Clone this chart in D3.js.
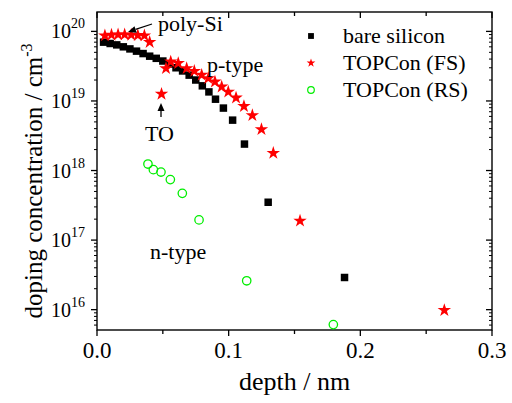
<!DOCTYPE html>
<html>
<head>
<meta charset="utf-8">
<script src="https://cdn.jsdelivr.net/npm/d3@7"></script>
<style>
body { margin: 0; background: #fff; }
text { font-family: "Liberation Serif", "Times New Roman", serif; fill: #000; }
</style>
</head>
<body>
<div id="chart"></div>
<script>
var w = 512;
var h = 403;

// bare silicon
var bareDepth = [0.005, 0.010, 0.015, 0.020, 0.025, 0.030, 0.035, 0.040, 0.045, 0.050,
    0.055, 0.060, 0.065, 0.070, 0.075, 0.080, 0.085, 0.090, 0.096, 0.103, 0.112, 0.130, 0.188];
var bareConc = [7.0e19, 6.7e19, 6.4e19, 6.0e19, 5.6e19, 5.2e19, 4.8e19, 4.4e19, 4.1e19, 3.75e19,
    3.4e19, 3.0e19, 2.7e19, 2.35e19, 2.0e19, 1.65e19, 1.35e19, 1.06e19, 7.9e18, 5.3e18, 2.4e18, 3.5e17, 2.9e16];

// TOPCon front side
var fsDepth = [0.006, 0.011, 0.016, 0.021, 0.026, 0.031, 0.036, 0.040, 0.049, 0.0524, 0.056,
    0.0617, 0.0681, 0.0739, 0.0795, 0.0845, 0.0896, 0.0947, 0.0997, 0.1056, 0.1116, 0.118,
    0.1249, 0.1339, 0.1542, 0.2638];
var fsConc = [8.7e19, 8.9e19, 9.0e19, 9.0e19, 8.9e19, 8.8e19, 8.7e19, 7.0e19, 1.26e19, 2.94e19, 3.66e19,
    3.48e19, 2.94e19, 2.69e19, 2.36e19, 2.11e19, 1.89e19, 1.6e19, 1.35e19, 1.11e19, 8.4e18, 6.2e18,
    3.9e18, 1.78e18, 1.89e17, 9.8e15];

// TOPCon rear side
var rsDepth = [0.0387, 0.0428, 0.0486, 0.0557, 0.0648, 0.0775, 0.1137, 0.1795];
var rsConc = [1.24e18, 1.03e18, 9.5e17, 7.4e17, 4.7e17, 1.95e17, 2.6e16, 6.1e15];

var xTicks = [0.0, 0.1, 0.2, 0.3];
var xMinor = [0.05, 0.15, 0.25];
var yExps = [16, 17, 18, 19, 20];

var legendNames = ['bare silicon', 'TOPCon (FS)', 'TOPCon (RS)'];

var pLeft = 97, pRight = 492, pTop = 12, pBottom = 330;

var x = d3.scaleLinear().domain([0, 0.3]).range([pLeft, pRight]);
var y = d3.scaleLog().domain([5.1e15, 1.9e20]).range([pBottom, pTop]);

var svg = d3.select('#chart')
    .append('svg')
    .attr('width', w)
    .attr('height', h);

// minor y ticks
var yMinor = [];
for (var e = 15; e <= 20; e++) {
    for (var k = 2; k <= 9; k++) {
        var v = k * Math.pow(10, e);
        if (v > y.domain()[0] && v < y.domain()[1]) yMinor.push(v);
    }
}

var ax = svg.append('g').attr('stroke', '#000').attr('stroke-width', 1.3);

// left ticks point out, right ticks point in
yExps.forEach(function(p) {
    var yy = y(Math.pow(10, p));
    ax.append('line').attr('x1', pLeft - 6).attr('x2', pLeft).attr('y1', yy).attr('y2', yy);
    ax.append('line').attr('x1', pRight - 6).attr('x2', pRight).attr('y1', yy).attr('y2', yy);
});
yMinor.forEach(function(v) {
    var yy = y(v);
    ax.append('line').attr('x1', pLeft - 3).attr('x2', pLeft).attr('y1', yy).attr('y2', yy).attr('stroke-width', 1);
    ax.append('line').attr('x1', pRight - 3).attr('x2', pRight).attr('y1', yy).attr('y2', yy).attr('stroke-width', 1);
});

xTicks.forEach(function(t) {
    var xx = x(t);
    ax.append('line').attr('x1', xx).attr('x2', xx).attr('y1', pBottom).attr('y2', pBottom + 6);
    ax.append('line').attr('x1', xx).attr('x2', xx).attr('y1', pTop).attr('y2', pTop + 6);
});
xMinor.forEach(function(t) {
    var xx = x(t);
    ax.append('line').attr('x1', xx).attr('x2', xx).attr('y1', pBottom).attr('y2', pBottom + 4);
    ax.append('line').attr('x1', xx).attr('x2', xx).attr('y1', pTop).attr('y2', pTop + 4);
});

// frame
svg.append('rect')
    .attr('x', pLeft).attr('y', pTop)
    .attr('width', pRight - pLeft).attr('height', pBottom - pTop)
    .attr('fill', 'none').attr('stroke', '#000').attr('stroke-width', 1.4);

// x tick labels
svg.selectAll('text.xt')
    .data(xTicks)
    .enter()
    .append('text')
    .attr('class', 'xt')
    .attr('x', function(d) { return x(d); })
    .attr('y', 358)
    .attr('text-anchor', 'middle')
    .style('font-size', '23px')
    .text(function(d) { return d.toFixed(1); });

// y tick labels
var yl = svg.selectAll('text.yt')
    .data(yExps)
    .enter()
    .append('text')
    .attr('class', 'yt')
    .attr('x', 51)
    .attr('y', function(d) { return y(Math.pow(10, d)) + 7; })
    .style('font-size', '20px');
yl.append('tspan').text('10');
yl.append('tspan').attr('dy', -10).style('font-size', '14px').text(function(d) { return d; });

// axis titles
svg.append('text')
    .attr('x', (pLeft + pRight) / 2)
    .attr('y', 390)
    .attr('text-anchor', 'middle')
    .style('font-size', '26px')
    .text('depth / nm');

var yt = svg.append('text')
    .attr('transform', 'translate(42,181) rotate(-90)')
    .attr('text-anchor', 'middle')
    .style('font-size', '25px');
yt.append('tspan').text('doping concentration / cm');
yt.append('tspan').attr('dy', -10).style('font-size', '16px').text('-3');

// data
var sq = d3.symbol().type(d3.symbolSquare).size(56);
var st = d3.symbol().type(d3.symbolStar).size(56);

svg.append('g').selectAll('path')
    .data(d3.zip(bareDepth, bareConc))
    .enter()
    .append('path')
    .attr('d', sq)
    .attr('transform', function(d) { return 'translate(' + x(d[0]) + ',' + y(d[1]) + ')'; })
    .attr('fill', '#000');

svg.append('g').selectAll('path')
    .data(d3.zip(fsDepth, fsConc))
    .enter()
    .append('path')
    .attr('d', st)
    .attr('transform', function(d) { return 'translate(' + x(d[0]) + ',' + y(d[1]) + ')'; })
    .attr('fill', '#ff0000');

svg.append('g').selectAll('circle')
    .data(d3.zip(rsDepth, rsConc))
    .enter()
    .append('circle')
    .attr('cx', function(d) { return x(d[0]); })
    .attr('cy', function(d) { return y(d[1]); })
    .attr('r', 4.2)
    .attr('fill', 'none')
    .attr('stroke', '#00ee00')
    .attr('stroke-width', 1.3);

// legend
var lg = svg.append('g');
legendNames.forEach(function(name, i) {
    var ly = 36 + i * 27;
    if (i == 0) {
        lg.append('path').attr('d', d3.symbol().type(d3.symbolSquare).size(34))
            .attr('transform', 'translate(311,' + ly + ')').attr('fill', '#000');
    } else if (i == 1) {
        lg.append('path').attr('d', d3.symbol().type(d3.symbolStar).size(24))
            .attr('transform', 'translate(311,' + ly + ')').attr('fill', '#ff0000');
    } else {
        lg.append('circle').attr('cx', 311).attr('cy', ly).attr('r', 3.3)
            .attr('fill', 'none').attr('stroke', '#00ee00').attr('stroke-width', 1.2);
    }
    lg.append('text')
        .attr('x', 343)
        .attr('y', ly + 7)
        .style('font-size', '22px')
        .text(name);
});

// annotations
function arrow(x1, y1, x2, y2) {
    var a = Math.atan2(y2 - y1, x2 - x1);
    var L = 8, W = 3.5;
    var bx = x2 - L * Math.cos(a), by = y2 - L * Math.sin(a);
    svg.append('line').attr('x1', x1).attr('y1', y1).attr('x2', bx).attr('y2', by)
        .attr('stroke', '#000').attr('stroke-width', 1.3);
    svg.append('path')
        .attr('d', 'M' + x2 + ',' + y2 +
            'L' + (bx + W * Math.sin(a)) + ',' + (by - W * Math.cos(a)) +
            'L' + (bx - W * Math.sin(a)) + ',' + (by + W * Math.cos(a)) + 'Z')
        .attr('fill', '#000');
}

svg.append('text').attr('x', 158).attr('y', 31).style('font-size', '22px').text('poly-Si');
arrow(152, 24, 128, 32);

svg.append('text').attr('x', 207).attr('y', 72).style('font-size', '22px').text('p-type');

svg.append('text').attr('x', 145).attr('y', 141).style('font-size', '22px').text('TO');
arrow(161, 117, 161, 103);

svg.append('text').attr('x', 150).attr('y', 259).style('font-size', '22px').text('n-type');
</script>
</body>
</html>
